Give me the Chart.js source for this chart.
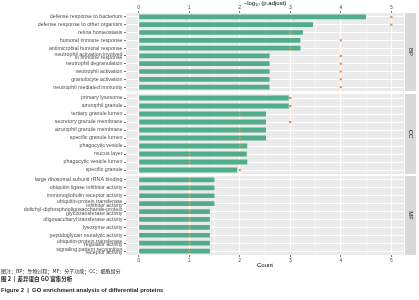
<!DOCTYPE html>
<html>
<head>
<meta charset="utf-8">
<script src="https://cdn.jsdelivr.net/npm/chart.js@4.4.1/dist/chart.umd.min.js"></script>
<style>
  body { margin: 0; background: #fff; }
  #wrap { position: relative; width: 419px; height: 300px; overflow: hidden; }
  canvas { position: absolute; left: 0; }
  .cap { position: absolute; left: 1px; white-space: nowrap; color: #222;
         font-family: "Noto Sans CJK SC", "Noto Sans", sans-serif; line-height: 1; }
</style>
</head>
<body>
<div id="wrap">
  <canvas id="bp" width="419" height="91" style="top:0"></canvas>
  <canvas id="cc" width="419" height="80" style="top:94px"></canvas>
  <canvas id="mf" width="419" height="92" style="top:176px"></canvas>
  <div class="cap" style="top:268px;font-size:5px">图注：BP：生物过程；MF：分子功能；CC：细胞组分</div>
  <div class="cap" style="top:277px;font-size:5.5px;font-weight:bold">图 2 &nbsp;|&nbsp; 差异蛋白 GO 富集分析</div>
  <div class="cap" style="top:288px;font-size:5.9px;font-weight:bold;font-family:'Liberation Sans',sans-serif">Figure 2 &nbsp;|&nbsp; GO enrichment analysis of differential proteins</div>
</div>
<script>
// GO terms per ontology, top to bottom
const bpTerms = [
  'defense response to bacterium',
  'defense response to other organism',
  'retina homeostasis',
  'humoral immune response',
  'antimicrobial humoral response',
  ['neutrophil activation involved', 'in immune response'],
  'neutrophil degranulation',
  'neutrophil activation',
  'granulocyte activation',
  'neutrophil mediated immunity'
];
const bpLogP = [4.50, 3.45, 3.25, 3.20, 3.20, 2.59, 2.59, 2.59, 2.59, 2.59];
const bpCount = [5, 5, 3, 4, 3, 4, 4, 4, 4, 4];

const ccTerms = [
  'primary lysosome',
  'azurophil granule',
  'tertiary granule lumen',
  'secretory granule membrane',
  'azurophil granule membrane',
  'specific granule lumen',
  'phagocytic vesicle',
  'mucus layer',
  'phagocytic vesicle lumen',
  'specific granule'
];
const ccLogP = [2.97, 2.97, 2.52, 2.52, 2.52, 2.52, 2.15, 2.14, 2.15, 1.95];
const ccCount = [3, 3, 2, 3, 2, 2, 2, 1, 1, 2];

const mfTerms = [
  'large ribosomal subunit rRNA binding',
  'ubiquitin ligase inhibitor activity',
  'immunoglobulin receptor activity',
  ['ubiquitin-protein transferase', 'inhibitor activity'],
  ['dolichyl-diphosphooligosaccharide-protein', 'glycotransferase activity'],
  'oligosaccharyl transferase activity',
  'lysozyme activity',
  'peptidoglycan muralytic activity',
  ['ubiquitin-protein transferase', 'regulator activity'],
  ['signaling pattern recognition', 'receptor activity']
];
const mfLogP = [1.50, 1.50, 1.50, 1.50, 1.41, 1.41, 1.41, 1.41, 1.41, 1.41];
const mfCount = [1, 1, 1, 1, 1, 1, 1, 1, 1, 1];

// shared x scale: major ticks with labels, minor grid in between
const majorTicks = [0, 1, 2, 3, 4, 5];
const minorTicks = [0.5, 1.5, 2.5, 3.5, 4.5];

const FONT = 'Liberation Sans';
const barColor = '#52ad8c';
const dotColor = '#e8894a';

const panelPlugin = {
  id: 'panel',
  beforeDraw(chart) {
    const { ctx, chartArea: a } = chart;
    ctx.save();
    ctx.fillStyle = '#ebebeb';
    ctx.fillRect(a.left, a.top, a.right - a.left, a.bottom - a.top);
    ctx.restore();
  },
  afterDraw(chart, args, opts) {
    const { ctx, chartArea: a } = chart;
    const x = a.right + 1, w = 11;
    ctx.save();
    ctx.fillStyle = '#d9d9d9';
    ctx.fillRect(x, a.top, w, a.bottom - a.top);
    ctx.translate(x + w / 2, (a.top + a.bottom) / 2);
    ctx.rotate(Math.PI / 2);
    ctx.fillStyle = '#1a1a1a';
    ctx.font = `6px "${FONT}"`;
    ctx.textAlign = 'center';
    ctx.textBaseline = 'middle';
    ctx.fillText(opts.label, 0, 0);
    ctx.restore();
  }
};

function makeChart(id, strip, terms, logp, counts, axis) {
  const isMajor = v => Number.isInteger(v);
  return new Chart(document.getElementById(id), {
    type: 'bar',
    data: {
      labels: terms,
      datasets: [
        {
          type: 'line',
          indexAxis: 'y',
          data: counts,
          showLine: false,
          borderWidth: 0,
          pointStyle: 'rect',
          pointRadius: 1.5,
          pointBorderWidth: 0,
          pointBackgroundColor: dotColor,
          order: 0
        },
        {
          indexAxis: 'y',
          data: logp,
          backgroundColor: barColor,
          barPercentage: 0.6,
          categoryPercentage: 1,
          order: 1
        }
      ]
    },
    options: {
      indexAxis: 'y',
      responsive: false,
      animation: false,
      events: [],
      layout: { autoPadding: false, padding: { left: 0, right: 15, top: 0, bottom: 0 } },
      scales: {
        x: {
          type: 'linear',
          position: axis === 'bottom' ? 'bottom' : 'top',
          min: -0.25,
          max: 5.25,
          afterBuildTicks: s => { s.ticks = majorTicks.concat(minorTicks).sort((a, b) => a - b).map(v => ({ value: v })); },
          afterFit: s => {
            s.height = axis === 'none' ? 0 : 13;
            s.paddingLeft = 0; s.paddingRight = 0;
          },
          border: { display: false },
          grid: {
            color: '#ffffff',
            lineWidth: c => isMajor(c.tick.value) ? 1.1 : 0.5,
            drawTicks: axis !== 'none',
            tickLength: 2,
            tickWidth: 0.7,
            tickColor: c => isMajor(c.tick.value) ? '#333333' : 'rgba(0,0,0,0)'
          },
          ticks: {
            display: axis !== 'none',
            autoSkip: false,
            maxRotation: 0,
            padding: 0.5,
            color: '#4d4d4d',
            font: { family: FONT, size: 5 },
            callback: v => isMajor(v) ? String(v) : ''
          },
          title: {
            display: axis !== 'none',
            text: axis === 'top' ? '\u2212log\u2081\u2080 (p.adjust)' : 'Count',
            color: '#000',
            font: { family: FONT, size: 6, lineHeight: 1 },
            padding: { top: 0, bottom: 0 }
          }
        },
        y: {
          type: 'category',
          offset: true,
          afterFit: s => {
            s.width = 126;
            s.paddingTop = 0; s.paddingBottom = 0;
          },
          border: { display: false },
          grid: {
            offset: false,
            color: '#ffffff',
            lineWidth: 1,
            tickLength: 2,
            tickWidth: 0.7,
            tickColor: '#333333'
          },
          ticks: {
            autoSkip: false,
            padding: 1.5,
            color: '#4d4d4d',
            font: { family: FONT, size: 5.3, lineHeight: 0.65 }
          }
        }
      },
      plugins: {
        legend: { display: false },
        tooltip: { enabled: false },
        panel: { label: strip }
      }
    },
    plugins: [panelPlugin]
  });
}

makeChart('bp', 'BP', bpTerms, bpLogP, bpCount, 'top');
makeChart('cc', 'CC', ccTerms, ccLogP, ccCount, 'none');
makeChart('mf', 'MF', mfTerms, mfLogP, mfCount, 'bottom');
</script>
</body>
</html>
